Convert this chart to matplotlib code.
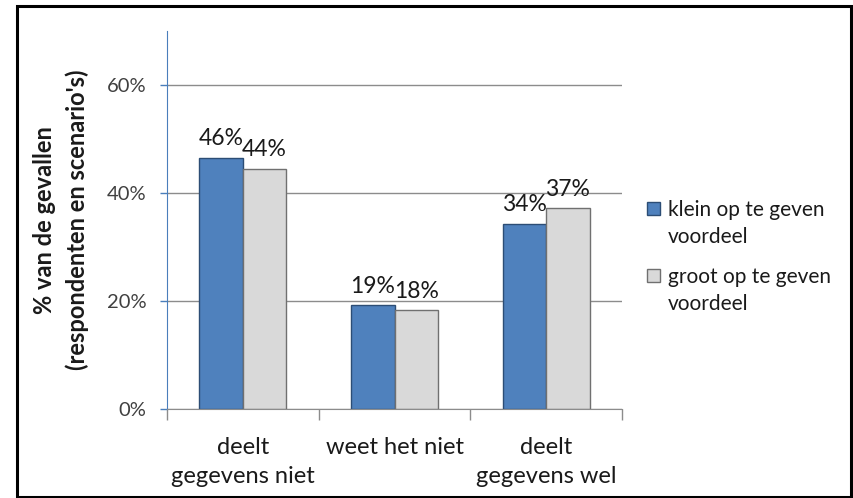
import matplotlib
matplotlib.use("Agg")
import matplotlib.pyplot as plt
from matplotlib.patches import Rectangle
import numpy as np

categories = ["deelt\ngegevens niet", "weet het niet", "deelt\ngegevens wel"]
series_names = ["klein op te geven\nvoordeel", "groot op te geven\nvoordeel"]
klein = [0.465, 0.192, 0.343]
groot = [0.445, 0.183, 0.372]
klein_labels = ["46%", "19%", "34%"]
groot_labels = ["44%", "18%", "37%"]
yticks = [0.0, 0.2, 0.4, 0.6]
ytick_labels = ["0%", "20%", "40%", "60%"]

plt.rcParams['font.family'] = ['Lato', 'DejaVu Sans']

W, H = 854, 498
fig = plt.figure(figsize=(W / 100, H / 100), dpi=100)
ax = fig.add_axes([167 / W, 1 - 409 / H, (622 - 167) / W, (409 - 31) / H])

x = np.arange(len(categories))
bw = 0.286
blue = "#4f81bd"
blue_edge = "#2c4d75"
gray = "#d9d9d9"
gray_edge = "#707070"
txt = "#1a1a1a"

b1 = ax.bar(x - bw / 2, klein, bw, color=blue, edgecolor=blue_edge, linewidth=1.0, zorder=3)
b2 = ax.bar(x + bw / 2, groot, bw, color=gray, edgecolor=gray_edge, linewidth=1.0, zorder=3)

for bars, labels in ((b1, klein_labels), (b2, groot_labels)):
    for rect, lab in zip(bars, labels):
        ax.annotate(lab, (rect.get_x() + rect.get_width() / 2, rect.get_height()),
                    xytext=(0, 9), textcoords="offset points", ha="center", va="baseline",
                    fontsize=16.5, color=txt)

ax.set_xlim(-0.5, len(categories) - 0.5)
ax.set_ylim(0, 0.7)
ax.set_yticks(yticks)
ax.set_yticklabels(ytick_labels, fontsize=14.5, color="#404040")
ax.yaxis.grid(True, color="#8c8c8c", linewidth=1.0, zorder=0)
ax.set_axisbelow(True)

ax.set_xticks(x)
ax.set_xticklabels(categories, fontsize=17, color=txt, linespacing=1.45)
ax.tick_params(axis="x", which="major", length=0, pad=20.5)
ax.set_xticks(np.arange(-0.5, len(categories), 1.0), minor=True)
ax.tick_params(axis="x", which="minor", length=8, color="#8c8c8c", width=1)
ax.tick_params(axis="y", length=5, color="#4a7ebb", width=1, pad=10)

for s in ["top", "right"]:
    ax.spines[s].set_visible(False)
ax.spines["left"].set_color("#4a7ebb")
ax.spines["bottom"].set_color("#8c8c8c")
ax.spines["bottom"].set_zorder(4)

ax.set_ylabel("% van de gevallen\n(respondenten en scenario's)", fontsize=17,
              fontweight="bold", linespacing=1.45, color=txt)
ax.yaxis.set_label_coords((61 - 167) / (622 - 167), 0.5)
ax.yaxis.label.set_verticalalignment("center")

# legend (manual layout so the swatch sits on the first text line)
leg_colors = [(blue, blue_edge), (gray, gray_edge)]
leg_baselines = [215, 282]
line_gap = 28
for (fc, ec), name, yb in zip(leg_colors, series_names, leg_baselines):
    fig.patches.append(Rectangle((647 / W, 1 - yb / H), 13 / W, 13 / H,
                                 transform=fig.transFigure, facecolor=fc,
                                 edgecolor=ec, linewidth=1.0))
    fig.text(668 / W, 1 - (yb + line_gap) / H, name, fontsize=15, color=txt, ha="left",
             va="baseline", linespacing=1.45)

fig.patches.append(Rectangle((17 / W, 1.5 / H), (851 - 17) / W, (497 - 7) / H,
                             transform=fig.transFigure, fill=False,
                             edgecolor="black", linewidth=2.2))

fig.savefig("out.png", dpi=100, facecolor="white")
